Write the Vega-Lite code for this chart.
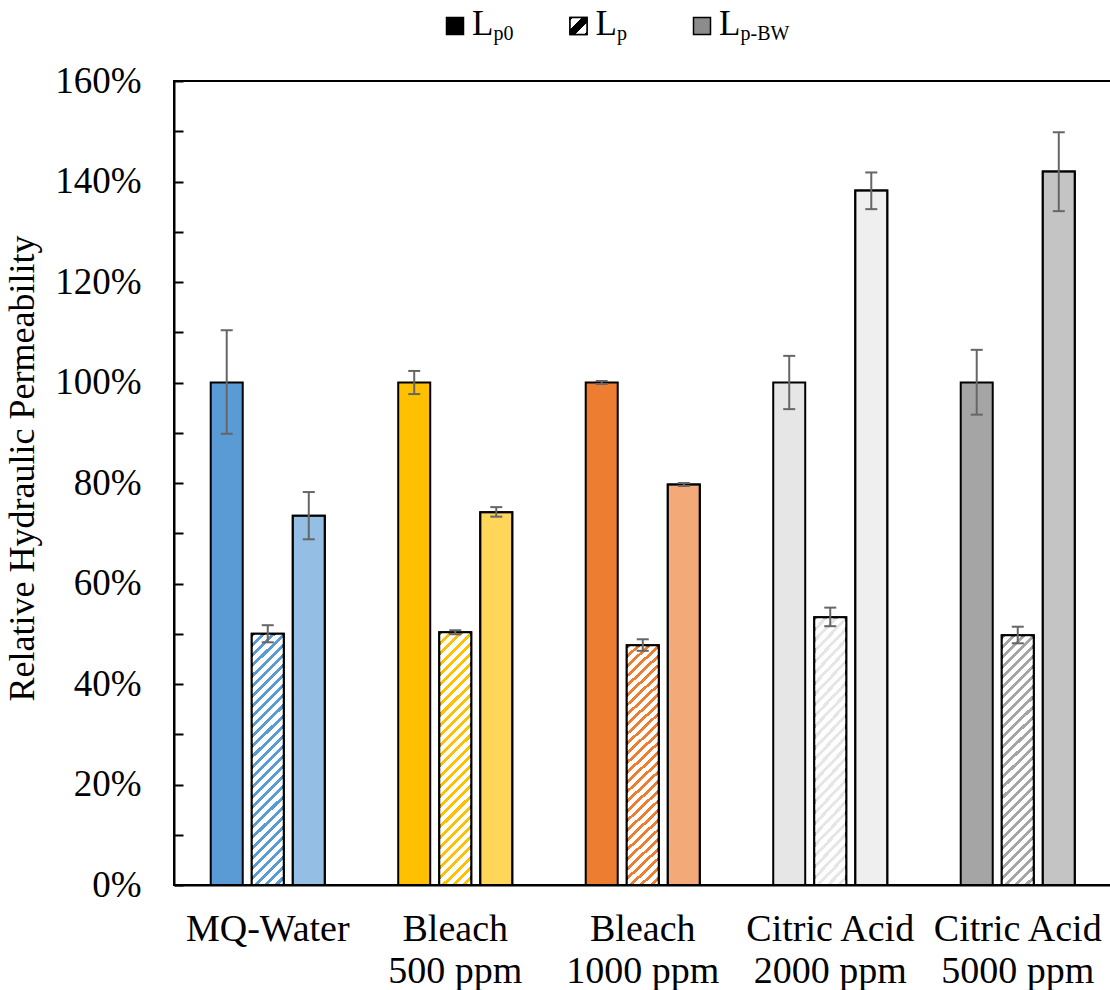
{
  "$schema": "https://vega.github.io/schema/vega-lite/v6.json",
  "background": "white",
  "padding": {"left": 3, "top": 7, "right": 0, "bottom": 0},
  "bounds": "flush",
  "spacing": 45,
  "resolve": {"scale": {"fill": "independent"}},
  "config": {
    "font": "Liberation Serif",
    "axis": {"labelColor": "black", "titleColor": "black", "grid": false}
  },
  "vconcat": [
    {
      "width": 937.5,
      "height": 20,
      "view": {"stroke": null},
      "data": {
        "values": [
          {"series": "Lp0", "main": "L", "sub": "p0"},
          {"series": "Lp", "main": "L", "sub": "p"},
          {"series": "Lp-BW", "main": "L", "sub": "p-BW"}
        ]
      },
      "encoding": {
        "x": {
          "field": "series",
          "type": "nominal",
          "scale": {"type": "point", "domain": ["Lp0", "Lp", "Lp-BW"], "range": [281, 528], "padding": 0},
          "axis": null
        }
      },
      "layer": [
        {
          "mark": {"type": "point", "shape": "square", "size": 289, "filled": true, "stroke": "black", "strokeWidth": 1.5, "opacity": 1},
          "encoding": {
            "fill": {
              "field": "series",
              "type": "nominal",
              "scale": {"domain": ["Lp0", "Lp", "Lp-BW"], "range": ["#000000", "#ffffff", "#8c8c8c"]},
              "legend": null
            }
          }
        },
        {
          "transform": [{"filter": "datum.series == 'Lp'"}],
          "mark": {
            "type": "point", "shape": "square", "size": 289, "filled": true, "stroke": "black", "strokeWidth": 1.5, "opacity": 1,
            "fill": {
              "gradient": "linear", "x1": 0, "y1": 0, "x2": 1, "y2": 1,
              "stops": [
                {"offset": 0, "color": "#000000"}, {"offset": 0.1, "color": "#000000"},
                {"offset": 0.1, "color": "#ffffff"}, {"offset": 0.36, "color": "#ffffff"},
                {"offset": 0.36, "color": "#000000"}, {"offset": 0.64, "color": "#000000"},
                {"offset": 0.64, "color": "#ffffff"}, {"offset": 0.9, "color": "#ffffff"},
                {"offset": 0.9, "color": "#000000"}, {"offset": 1, "color": "#000000"}
              ]
            }
          }
        },
        {
          "mark": {"type": "text", "align": "left", "baseline": "alphabetic", "dx": 17, "dy": 9, "fontSize": 35, "color": "black"},
          "encoding": {"text": {"field": "main"}}
        },
        {
          "mark": {"type": "text", "align": "left", "baseline": "alphabetic", "dx": 38.5, "dy": 14, "fontSize": 20, "color": "black"},
          "encoding": {"text": {"field": "sub"}}
        }
      ]
    },
    {
      "width": 937.5,
      "height": 804,
      "view": {"stroke": "black", "strokeWidth": 2},
      "data": {
        "values": [
          {"cat": "MQ-Water", "series": "Lp0", "value": 1.0, "lo": 0.898, "hi": 1.104},
          {"cat": "MQ-Water", "series": "Lp", "value": 0.5, "lo": 0.483, "hi": 0.517},
          {"cat": "MQ-Water", "series": "Lp-BW", "value": 0.735, "lo": 0.688, "hi": 0.782},
          {"cat": "Bleach|500 ppm", "series": "Lp0", "value": 1.0, "lo": 0.977, "hi": 1.023},
          {"cat": "Bleach|500 ppm", "series": "Lp", "value": 0.503, "lo": 0.499, "hi": 0.507},
          {"cat": "Bleach|500 ppm", "series": "Lp-BW", "value": 0.742, "lo": 0.733, "hi": 0.752},
          {"cat": "Bleach|1000 ppm", "series": "Lp0", "value": 1.0, "lo": 0.997, "hi": 1.003},
          {"cat": "Bleach|1000 ppm", "series": "Lp", "value": 0.477, "lo": 0.466, "hi": 0.489},
          {"cat": "Bleach|1000 ppm", "series": "Lp-BW", "value": 0.797, "lo": 0.794, "hi": 0.8},
          {"cat": "Citric Acid|2000 ppm", "series": "Lp0", "value": 1.0, "lo": 0.947, "hi": 1.053},
          {"cat": "Citric Acid|2000 ppm", "series": "Lp", "value": 0.533, "lo": 0.515, "hi": 0.552},
          {"cat": "Citric Acid|2000 ppm", "series": "Lp-BW", "value": 1.382, "lo": 1.345, "hi": 1.418},
          {"cat": "Citric Acid|5000 ppm", "series": "Lp0", "value": 1.0, "lo": 0.936, "hi": 1.065},
          {"cat": "Citric Acid|5000 ppm", "series": "Lp", "value": 0.497, "lo": 0.481, "hi": 0.514},
          {"cat": "Citric Acid|5000 ppm", "series": "Lp-BW", "value": 1.42, "lo": 1.341, "hi": 1.498}
        ]
      },
      "encoding": {
        "x": {
          "field": "cat",
          "type": "nominal",
          "sort": null,
          "scale": {
            "domain": ["MQ-Water", "Bleach|500 ppm", "Bleach|1000 ppm", "Citric Acid|2000 ppm", "Citric Acid|5000 ppm"],
            "paddingInner": 0, "paddingOuter": 0
          },
          "axis": {
            "title": null,
            "ticks": false,
            "domainColor": "black",
            "domainWidth": 2,
            "labelAngle": 0,
            "labelFontSize": 38,
            "labelPadding": 25,
            "labelLineHeight": 42,
            "labelLimit": 400,
            "labelOverlap": false,
            "labelExpr": "split(datum.label, '|')"
          }
        },
        "xOffset": {
          "field": "series",
          "type": "nominal",
          "scale": {"domain": ["Lp0", "Lp", "Lp-BW"], "paddingInner": 0.22, "paddingOuter": 0.895}
        }
      },
      "layer": [
        {
          "mark": {"type": "bar", "stroke": "black", "strokeWidth": 2},
          "encoding": {
            "y": {
              "field": "value",
              "type": "quantitative",
              "scale": {"domain": [0, 1.6], "nice": false},
              "axis": {
                "title": "Relative Hydraulic Permeability",
                "titleFontSize": 36,
                "titleFontWeight": "normal",
                "titlePadding": 13,
                "titleY": 387,
                "values": [0, 0.1, 0.2, 0.3, 0.4, 0.5, 0.6, 0.7, 0.8, 0.9, 1.0, 1.1, 1.2, 1.3, 1.4, 1.5, 1.6],
                "labelExpr": "round(datum.value * 10) % 2 == 0 ? format(datum.value, '.0%') : ''",
                "labelFontSize": 37,
                "labelPadding": 42,
                "tickSize": -9,
                "tickWidth": 2,
                "tickColor": "black",
                "domainColor": "black",
                "domainWidth": 2
              }
            },
            "fill": {
              "field": "cat",
              "type": "nominal",
              "scale": {
                "domain": ["MQ-Water", "Bleach|500 ppm", "Bleach|1000 ppm", "Citric Acid|2000 ppm", "Citric Acid|5000 ppm"],
                "range": ["#5B9BD5", "#FFC000", "#ED7D31", "#E7E6E6", "#A5A5A5"]
              },
              "legend": null
            }
          }
        },
        {
          "transform": [{"filter": "datum.series == 'Lp'"}],
          "mark": {
            "type": "bar", "stroke": "black", "strokeWidth": 2,
            "fill": {
              "gradient": "linear", "x1": 0, "y1": 0, "x2": 0.14, "y2": 1.11,
              "stops": [
                {"offset": 0, "color": "rgba(255,255,255,0)"}, {"offset": 0.014286, "color": "rgba(255,255,255,0)"}, {"offset": 0.014286, "color": "#ffffff"}, {"offset": 0.035714, "color": "#ffffff"},
                {"offset": 0.035714, "color": "rgba(255,255,255,0)"}, {"offset": 0.05, "color": "rgba(255,255,255,0)"}, {"offset": 0.05, "color": "#ffffff"}, {"offset": 0.071429, "color": "#ffffff"},
                {"offset": 0.071429, "color": "rgba(255,255,255,0)"}, {"offset": 0.085714, "color": "rgba(255,255,255,0)"}, {"offset": 0.085714, "color": "#ffffff"}, {"offset": 0.107143, "color": "#ffffff"},
                {"offset": 0.107143, "color": "rgba(255,255,255,0)"}, {"offset": 0.121429, "color": "rgba(255,255,255,0)"}, {"offset": 0.121429, "color": "#ffffff"}, {"offset": 0.142857, "color": "#ffffff"},
                {"offset": 0.142857, "color": "rgba(255,255,255,0)"}, {"offset": 0.157143, "color": "rgba(255,255,255,0)"}, {"offset": 0.157143, "color": "#ffffff"}, {"offset": 0.178571, "color": "#ffffff"},
                {"offset": 0.178571, "color": "rgba(255,255,255,0)"}, {"offset": 0.192857, "color": "rgba(255,255,255,0)"}, {"offset": 0.192857, "color": "#ffffff"}, {"offset": 0.214286, "color": "#ffffff"},
                {"offset": 0.214286, "color": "rgba(255,255,255,0)"}, {"offset": 0.228571, "color": "rgba(255,255,255,0)"}, {"offset": 0.228571, "color": "#ffffff"}, {"offset": 0.25, "color": "#ffffff"},
                {"offset": 0.25, "color": "rgba(255,255,255,0)"}, {"offset": 0.264286, "color": "rgba(255,255,255,0)"}, {"offset": 0.264286, "color": "#ffffff"}, {"offset": 0.285714, "color": "#ffffff"},
                {"offset": 0.285714, "color": "rgba(255,255,255,0)"}, {"offset": 0.3, "color": "rgba(255,255,255,0)"}, {"offset": 0.3, "color": "#ffffff"}, {"offset": 0.321429, "color": "#ffffff"},
                {"offset": 0.321429, "color": "rgba(255,255,255,0)"}, {"offset": 0.335714, "color": "rgba(255,255,255,0)"}, {"offset": 0.335714, "color": "#ffffff"}, {"offset": 0.357143, "color": "#ffffff"},
                {"offset": 0.357143, "color": "rgba(255,255,255,0)"}, {"offset": 0.371429, "color": "rgba(255,255,255,0)"}, {"offset": 0.371429, "color": "#ffffff"}, {"offset": 0.392857, "color": "#ffffff"},
                {"offset": 0.392857, "color": "rgba(255,255,255,0)"}, {"offset": 0.407143, "color": "rgba(255,255,255,0)"}, {"offset": 0.407143, "color": "#ffffff"}, {"offset": 0.428571, "color": "#ffffff"},
                {"offset": 0.428571, "color": "rgba(255,255,255,0)"}, {"offset": 0.442857, "color": "rgba(255,255,255,0)"}, {"offset": 0.442857, "color": "#ffffff"}, {"offset": 0.464286, "color": "#ffffff"},
                {"offset": 0.464286, "color": "rgba(255,255,255,0)"}, {"offset": 0.478571, "color": "rgba(255,255,255,0)"}, {"offset": 0.478571, "color": "#ffffff"}, {"offset": 0.5, "color": "#ffffff"},
                {"offset": 0.5, "color": "rgba(255,255,255,0)"}, {"offset": 0.514286, "color": "rgba(255,255,255,0)"}, {"offset": 0.514286, "color": "#ffffff"}, {"offset": 0.535714, "color": "#ffffff"},
                {"offset": 0.535714, "color": "rgba(255,255,255,0)"}, {"offset": 0.55, "color": "rgba(255,255,255,0)"}, {"offset": 0.55, "color": "#ffffff"}, {"offset": 0.571429, "color": "#ffffff"},
                {"offset": 0.571429, "color": "rgba(255,255,255,0)"}, {"offset": 0.585714, "color": "rgba(255,255,255,0)"}, {"offset": 0.585714, "color": "#ffffff"}, {"offset": 0.607143, "color": "#ffffff"},
                {"offset": 0.607143, "color": "rgba(255,255,255,0)"}, {"offset": 0.621429, "color": "rgba(255,255,255,0)"}, {"offset": 0.621429, "color": "#ffffff"}, {"offset": 0.642857, "color": "#ffffff"},
                {"offset": 0.642857, "color": "rgba(255,255,255,0)"}, {"offset": 0.657143, "color": "rgba(255,255,255,0)"}, {"offset": 0.657143, "color": "#ffffff"}, {"offset": 0.678571, "color": "#ffffff"},
                {"offset": 0.678571, "color": "rgba(255,255,255,0)"}, {"offset": 0.692857, "color": "rgba(255,255,255,0)"}, {"offset": 0.692857, "color": "#ffffff"}, {"offset": 0.714286, "color": "#ffffff"},
                {"offset": 0.714286, "color": "rgba(255,255,255,0)"}, {"offset": 0.728571, "color": "rgba(255,255,255,0)"}, {"offset": 0.728571, "color": "#ffffff"}, {"offset": 0.75, "color": "#ffffff"},
                {"offset": 0.75, "color": "rgba(255,255,255,0)"}, {"offset": 0.764286, "color": "rgba(255,255,255,0)"}, {"offset": 0.764286, "color": "#ffffff"}, {"offset": 0.785714, "color": "#ffffff"},
                {"offset": 0.785714, "color": "rgba(255,255,255,0)"}, {"offset": 0.8, "color": "rgba(255,255,255,0)"}, {"offset": 0.8, "color": "#ffffff"}, {"offset": 0.821429, "color": "#ffffff"},
                {"offset": 0.821429, "color": "rgba(255,255,255,0)"}, {"offset": 0.835714, "color": "rgba(255,255,255,0)"}, {"offset": 0.835714, "color": "#ffffff"}, {"offset": 0.857143, "color": "#ffffff"},
                {"offset": 0.857143, "color": "rgba(255,255,255,0)"}, {"offset": 0.871429, "color": "rgba(255,255,255,0)"}, {"offset": 0.871429, "color": "#ffffff"}, {"offset": 0.892857, "color": "#ffffff"},
                {"offset": 0.892857, "color": "rgba(255,255,255,0)"}, {"offset": 0.907143, "color": "rgba(255,255,255,0)"}, {"offset": 0.907143, "color": "#ffffff"}, {"offset": 0.928571, "color": "#ffffff"},
                {"offset": 0.928571, "color": "rgba(255,255,255,0)"}, {"offset": 0.942857, "color": "rgba(255,255,255,0)"}, {"offset": 0.942857, "color": "#ffffff"}, {"offset": 0.964286, "color": "#ffffff"},
                {"offset": 0.964286, "color": "rgba(255,255,255,0)"}, {"offset": 0.978571, "color": "rgba(255,255,255,0)"}, {"offset": 0.978571, "color": "#ffffff"}, {"offset": 1, "color": "#ffffff"}
              ]
            }
          },
          "encoding": {"y": {"field": "value", "type": "quantitative"}}
        },
        {
          "transform": [{"filter": "datum.series == 'Lp-BW'"}],
          "mark": {"type": "bar", "stroke": "black", "strokeWidth": 2, "fill": "white", "fillOpacity": 0.35},
          "encoding": {"y": {"field": "value", "type": "quantitative"}}
        },
        {
          "mark": {"type": "rule", "color": "#666666", "strokeWidth": 2},
          "encoding": {
            "y": {"field": "lo", "type": "quantitative"},
            "y2": {"field": "hi"}
          }
        },
        {
          "mark": {"type": "tick", "color": "#666666", "thickness": 2, "size": 12, "opacity": 1},
          "encoding": {"y": {"field": "lo", "type": "quantitative"}}
        },
        {
          "mark": {"type": "tick", "color": "#666666", "thickness": 2, "size": 12, "opacity": 1},
          "encoding": {"y": {"field": "hi", "type": "quantitative"}}
        }
      ]
    }
  ]
}
